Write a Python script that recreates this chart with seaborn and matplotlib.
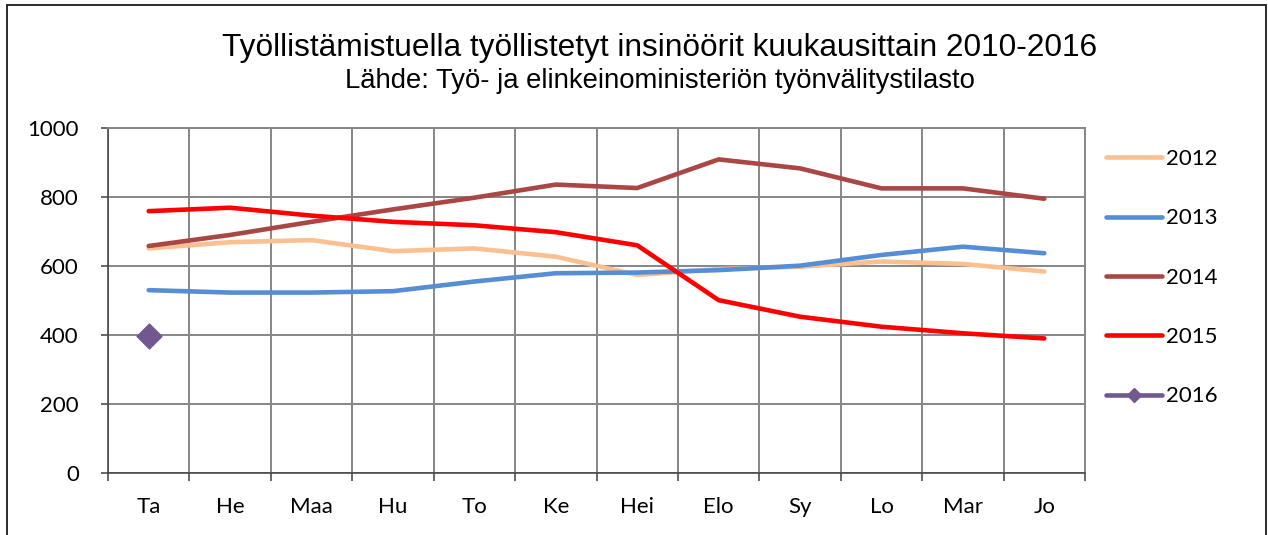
import numpy as np
import pandas as pd
import seaborn as sns
import matplotlib.pyplot as plt
from matplotlib.lines import Line2D
from matplotlib.patches import Rectangle

# data
months = ["Ta", "He", "Maa", "Hu", "To", "Ke", "Hei", "Elo", "Sy", "Lo", "Mar", "Jo"]
v2012 = [651, 669, 675, 643, 651, 627, 574, 591, 598, 613, 606, 584]
v2013 = [530, 523, 523, 527, 555, 579, 581, 588, 601, 632, 656, 637]
v2014 = [658, 690, 728, 764, 798, 836, 826, 909, 883, 825, 825, 795]
v2015 = [759, 769, 746, 728, 718, 698, 660, 501, 453, 424, 405, 390]
v2016 = [398]
years = ["2012", "2013", "2014", "2015", "2016"]
colors = {"2012": "#FAC090", "2013": "#558ED5", "2014": "#AA4643",
          "2015": "#FF0000", "2016": "#71588F"}

title = "Työllistämistuella työllistetyt insinöörit kuukausittain 2010-2016"
subtitle = "Lähde: Työ- ja elinkeinoministeriön työnvälitystilasto"

sns.set_style("white")
plt.rcParams['font.family'] = ['Lato', 'DejaVu Sans']
plt.rcParams['text.color'] = 'black'

W, H = 1268, 535
fig = plt.figure(figsize=(W / 100, H / 100), dpi=100)
ax = fig.add_axes([108 / W, 1 - 473 / H, (1085 - 108) / W, (473 - 128) / H])

rows = []
for year, vals in zip(years[:4], [v2012, v2013, v2014, v2015]):
    for i, v in enumerate(vals):
        rows.append({"year": year, "x": i, "value": v})
df = pd.DataFrame(rows)

sns.lineplot(data=df, x="x", y="value", hue="year", palette=colors,
             linewidth=3.3, legend=False, ax=ax)
sns.scatterplot(x=list(range(len(v2016))), y=v2016, marker="D", s=160,
                color=colors["2016"], edgecolor=colors["2016"], ax=ax, zorder=5)

ax.set_xlim(-0.5, 11.5)
ax.set_ylim(0, 1000)
ax.set_xlabel("")
ax.set_ylabel("")
ax.set_yticks(range(0, 1001, 200))
ax.set_xticks(np.arange(-0.5, 12, 1))
ax.set_xticks(range(12), minor=True)
ax.set_xticklabels(months, minor=True)
ax.tick_params(axis='x', which='major', bottom=True, length=6, width=1.1,
               color='#404040', labelbottom=False)
ax.tick_params(axis='x', which='minor', bottom=True, length=0, pad=17,
               labelsize=16, labelcolor='black')
ax.tick_params(axis='y', left=True, length=5, width=1.1, color='#404040',
               pad=16, labelsize=16, labelcolor='black')

ax.grid(True, which='major', color='#868686', linewidth=1.4)
ax.set_axisbelow(True)
for side in ['left', 'bottom']:
    ax.spines[side].set_color('#404040')
    ax.spines[side].set_linewidth(1.1)
for side in ['top', 'right']:
    ax.spines[side].set_color('#868686')
    ax.spines[side].set_linewidth(1.4)

handles = [Line2D([0], [0], color=colors[y], linewidth=3.3) for y in years[:4]]
handles.append(Line2D([0], [0], color=colors["2016"], linewidth=3.3,
                      marker="D", markersize=7))
fig.legend(handles, years, loc='upper left', bbox_to_anchor=(1106 / W, 1 - 149 / H),
           frameon=False, fontsize=16, handlelength=2.5, handletextpad=0.2,
           labelspacing=1.77, borderaxespad=0, borderpad=0, labelcolor='black')

fig.text(660 / W, 1 - 56 / H, title, ha='center', va='baseline', color='black',
         fontsize=22.8, family=['Liberation Sans', 'DejaVu Sans'])
fig.text(660 / W, 1 - 88 / H, subtitle, ha='center', va='baseline', color='black',
         fontsize=19.8, family=['Liberation Sans', 'DejaVu Sans'])

# outer chart frame
fig.add_artist(Rectangle((7 / W, -0.1), (1266 - 7) / W, 1.1 - 5 / H,
                         transform=fig.transFigure, fill=False,
                         edgecolor='#1a1a1a', linewidth=1.3))

fig.savefig("out.png", dpi=100)
